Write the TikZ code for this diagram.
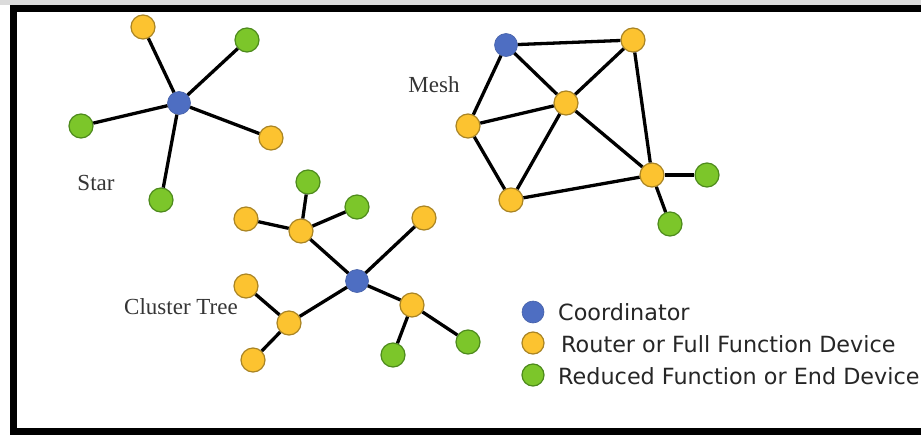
\documentclass[tikz,border=0pt]{standalone}
\usepackage{fontspec}
\setmainfont{Liberation Serif}
\newfontfamily\legendfont{DejaVu Sans}
\definecolor{coordblue}{HTML}{4E6EC2}
\definecolor{coordedge}{HTML}{4560A8}
\definecolor{routeryel}{HTML}{FCC330}
\definecolor{routeredge}{HTML}{A98424}
\definecolor{endgreen}{HTML}{7CC62A}
\definecolor{endedge}{HTML}{4D8A1C}
\definecolor{labelgray}{HTML}{353535}
\tikzset{
  dev/.style={circle, inner sep=0pt, minimum size=24pt, line width=1.2pt},
  coord/.style={dev, fill=coordblue, draw=coordedge, minimum size=23pt, line width=0.6pt},
  router/.style={dev, fill=routeryel, draw=routeredge},
  enddev/.style={dev, fill=endgreen, draw=endedge},
  link/.style={line width=3.3pt, black},
  topo/.style={font=\fontsize{23}{27}\selectfont, text=labelgray, inner sep=0pt},
  legtext/.style={font=\legendfont\fontsize{22.3}{26}\selectfont, text=black!85, anchor=west, inner sep=0pt}
}
\begin{document}
\begin{tikzpicture}[x=1pt, y=-1pt]
\useasboundingbox (0,0) rectangle (921,434);
\fill[white] (0,0) rectangle (921,434);
\fill[black!14] (0,0) rectangle (921,4.5);
% outer frame (continues past the right edge)
\draw[line width=7pt] (940,8.5) -- (13.5,8.5) -- (13.5,431.5) -- (940,431.5);

% ---- Star ----
\node[coord]  (sc) at (179,103) {};
\node[router] (s1) at (143,27) {};
\node[enddev] (s2) at (247,40) {};
\node[enddev] (s3) at (81,126) {};
\node[router] (s4) at (271,138) {};
\node[enddev] (s5) at (161,200) {};
\foreach \n in {s1,s2,s3,s4,s5} \draw[link] (sc) -- (\n);
\node[topo] (starlbl) at (96,183) {Star};

% ---- Mesh ----
\node[coord]  (mc) at (506,45) {};
\node[router] (m1) at (633,40) {};
\node[router] (m2) at (566,103) {};
\node[router] (m3) at (468,126) {};
\node[router] (m4) at (511,200) {};
\node[router] (m5) at (652,175) {};
\node[enddev] (m6) at (707,175) {};
\node[enddev] (m7) at (670,224) {};
\draw[link] (mc) -- (m1);
\draw[link] (mc) -- (m2);
\draw[link] (mc) -- (m3);
\draw[link] (m1) -- (m2);
\draw[link] (m1) -- (m5);
\draw[link] (m2) -- (m3);
\draw[link] (m2) -- (m4);
\draw[link] (m2) -- (m5);
\draw[link] (m3) -- (m4);
\draw[link] (m4) -- (m5);
\draw[link] (m5) -- (m6);
\draw[link] (m5) -- (m7);
\node[topo] (meshlbl) at (434,85) {Mesh};

% ---- Cluster Tree ----
\node[coord]  (tc)  at (357,281) {};
\node[router] (t1)  at (301,231) {};
\node[enddev] (t2)  at (308,182) {};
\node[enddev] (t3)  at (357,207) {};
\node[router] (t4)  at (246,219) {};
\node[router] (t5)  at (424,218) {};
\node[router] (t6)  at (412,305) {};
\node[enddev] (t7)  at (468,342) {};
\node[enddev] (t8)  at (393,355) {};
\node[router] (t9)  at (289,323) {};
\node[router] (t10) at (246,286) {};
\node[router] (t11) at (253,360) {};
\foreach \n in {t1,t5,t6,t9} \draw[link] (tc) -- (\n);
\foreach \n in {t2,t3,t4} \draw[link] (t1) -- (\n);
\foreach \n in {t7,t8} \draw[link] (t6) -- (\n);
\foreach \n in {t10,t11} \draw[link] (t9) -- (\n);
\node[topo] (treelbl) at (181,307) {Cluster Tree};

% ---- Legend ----
\node[coord, minimum size=22pt]  (l1) at (533,312) {};
\node[router, minimum size=22pt] (l2) at (533,343) {};
\node[enddev, minimum size=22pt] (l3) at (533,375) {};
\node[legtext] (l1t) at (558,312) {Coordinator};
\node[legtext] (l2t) at (561,344) {Router or Full Function Device};
\node[legtext] (l3t) at (558,376) {Reduced Function or End Device};
\end{tikzpicture}
\end{document}
